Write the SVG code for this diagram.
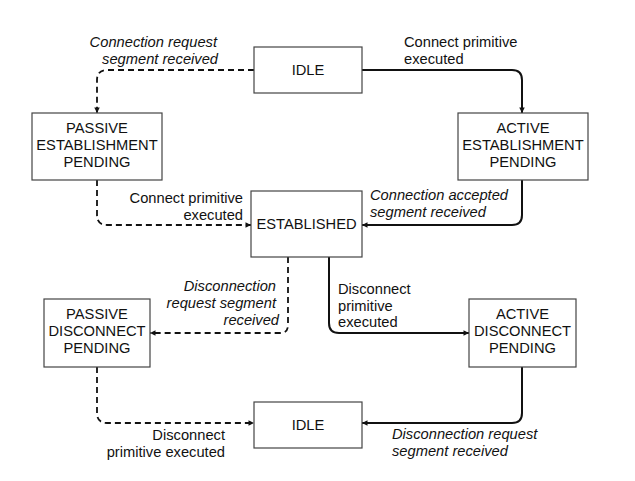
<svg xmlns="http://www.w3.org/2000/svg" width="635" height="481" viewBox="0 0 635 481">
<defs>
<marker id="ah" viewBox="0 0 10 10" refX="10" refY="5" markerWidth="8" markerHeight="5.5" markerUnits="userSpaceOnUse" orient="auto">
<path d="M0,0 L10,5 L0,10 z" fill="#111"/>
</marker>
<style>
.box{fill:#fff;stroke:#444;stroke-width:1.2}
.t{font-family:"Liberation Sans",Arial,sans-serif;font-size:14.7px;fill:#111}
.c{text-anchor:middle}
.e{text-anchor:end}
.i{font-style:italic}
.solid{fill:none;stroke:#111;stroke-width:2;marker-end:url(#ah)}
.dash{fill:none;stroke:#111;stroke-width:1.8;stroke-dasharray:6,4;marker-end:url(#ah)}
</style>
</defs>
<rect width="635" height="481" fill="#fff"/>
<g id="connectors">
<path class="dash" d="M254,70 H107 Q97,70 97,80 V113"/>
<path class="solid" d="M362,70 H512 Q522,70 522,80 V113"/>
<path class="dash" d="M97,180 V215 Q97,225 107,225 H251"/>
<path class="solid" d="M522,180 V215 Q522,225 512,225 H362"/>
<path class="dash" d="M288,257 V325 Q288,333 280,333 H150"/>
<path class="solid" d="M329,257 V323 Q329,333 339,333 H469"/>
<path class="dash" d="M97,367 V413 Q97,423 107,423 H254"/>
<path class="solid" d="M522,367 V413 Q522,423 512,423 H362"/>
</g>
<g id="idle-top">
<rect class="box" x="254" y="47" width="108" height="46"/>
<text class="t c" x="308" y="75">IDLE</text>
</g>
<g id="passive-establishment-pending">
<rect class="box" x="32" y="113" width="130" height="67"/>
<text class="t c" x="97" y="133">PASSIVE</text>
<text class="t c" x="97" y="150">ESTABLISHMENT</text>
<text class="t c" x="97" y="167">PENDING</text>
</g>
<g id="active-establishment-pending">
<rect class="box" x="458" y="113" width="130" height="67"/>
<text class="t c" x="523" y="133">ACTIVE</text>
<text class="t c" x="523" y="150">ESTABLISHMENT</text>
<text class="t c" x="523" y="167">PENDING</text>
</g>
<g id="established">
<rect class="box" x="251" y="191" width="111" height="66"/>
<text class="t c" x="306.5" y="229">ESTABLISHED</text>
</g>
<g id="passive-disconnect-pending">
<rect class="box" x="44" y="299" width="106" height="68"/>
<text class="t c" x="97" y="319">PASSIVE</text>
<text class="t c" x="97" y="336">DISCONNECT</text>
<text class="t c" x="97" y="353">PENDING</text>
</g>
<g id="active-disconnect-pending">
<rect class="box" x="469" y="299" width="107" height="68"/>
<text class="t c" x="522.5" y="319">ACTIVE</text>
<text class="t c" x="522.5" y="336">DISCONNECT</text>
<text class="t c" x="522.5" y="353">PENDING</text>
</g>
<g id="idle-bottom">
<rect class="box" x="254" y="402" width="108" height="46"/>
<text class="t c" x="308" y="430">IDLE</text>
</g>
<g id="labels">
<text class="t e i" x="217" y="47">Connection request</text>
<text class="t e i" x="218" y="64">segment received</text>
<text class="t" x="404" y="47">Connect primitive</text>
<text class="t" x="404" y="64">executed</text>
<text class="t e" x="243" y="203">Connect primitive</text>
<text class="t e" x="243" y="220">executed</text>
<text class="t i" x="370" y="200">Connection accepted</text>
<text class="t i" x="370" y="217">segment received</text>
<text class="t e i" x="276" y="291">Disconnection</text>
<text class="t e i" x="276" y="308">request segment</text>
<text class="t e i" x="279" y="325">received</text>
<text class="t" x="338" y="294">Disconnect</text>
<text class="t" x="338" y="311">primitive</text>
<text class="t" x="338" y="327">executed</text>
<text class="t e" x="225" y="440">Disconnect</text>
<text class="t e" x="225" y="457">primitive executed</text>
<text class="t i" x="392" y="439">Disconnection request</text>
<text class="t i" x="392" y="456">segment received</text>
</g>
</svg>
